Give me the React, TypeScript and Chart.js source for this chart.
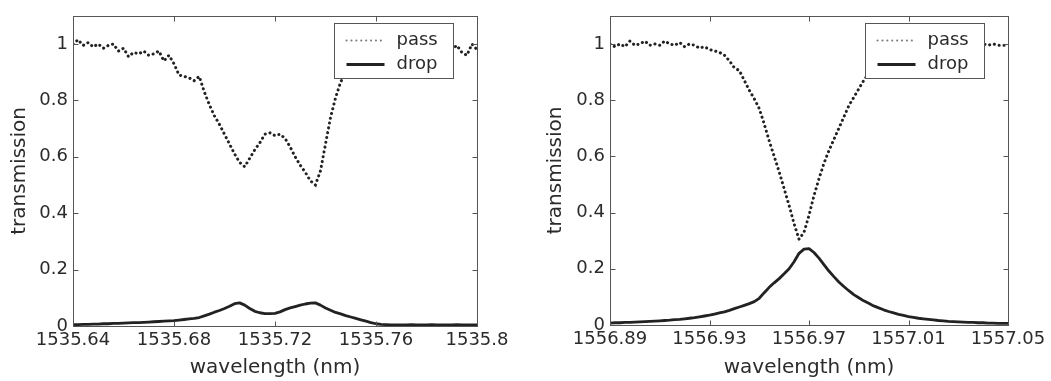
import React, { useEffect, useRef } from 'react';
import { Chart, registerables } from 'chart.js';

Chart.register(...registerables);

// ---------- data ----------
const SERIES_LABELS = ['pass', 'drop'];
const Y_TICKS = [0, 0.2, 0.4, 0.6, 0.8, 1];
const Y_TICK_LABELS = ['0', '0.2', '0.4', '0.6', '0.8', '1'];
const X_TITLE = 'wavelength (nm)';
const Y_TITLE = 'transmission';

const LEFT_X_TICKS = [1535.64, 1535.68, 1535.72, 1535.76, 1535.8];
const LEFT_X_TICK_LABELS = ['1535.64', '1535.68', '1535.72', '1535.76', '1535.8'];
const LEFT_WAVELENGTH = [
  1535.640, 1535.642, 1535.644, 1535.646, 1535.648, 1535.650, 1535.652, 1535.654, 1535.656, 1535.658,
  1535.660, 1535.662, 1535.664, 1535.666, 1535.668, 1535.670, 1535.672, 1535.674, 1535.676, 1535.678,
  1535.680, 1535.682, 1535.684, 1535.686, 1535.688, 1535.690, 1535.692, 1535.694, 1535.696, 1535.698,
  1535.700, 1535.702, 1535.704, 1535.706, 1535.708, 1535.710, 1535.712, 1535.714, 1535.716, 1535.718,
  1535.720, 1535.722, 1535.724, 1535.726, 1535.728, 1535.730, 1535.732, 1535.734, 1535.736, 1535.738,
  1535.740, 1535.742, 1535.744, 1535.746, 1535.748, 1535.750, 1535.752, 1535.754, 1535.756, 1535.758,
  1535.760, 1535.762, 1535.764, 1535.766, 1535.768, 1535.770, 1535.772, 1535.774, 1535.776, 1535.778,
  1535.780, 1535.782, 1535.784, 1535.786, 1535.788, 1535.790, 1535.792, 1535.794, 1535.796, 1535.798,
  1535.800,
];
const LEFT_PASS = [
  1.00, 1.015, 0.995, 1.005, 0.99, 1.00, 0.985, 0.995, 1.00, 0.975,
  0.985, 0.955, 0.97, 0.965, 0.975, 0.96, 0.965, 0.975, 0.94, 0.96,
  0.93, 0.89, 0.885, 0.88, 0.87, 0.885, 0.83, 0.785, 0.745, 0.715,
  0.68, 0.645, 0.61, 0.58, 0.565, 0.595, 0.625, 0.65, 0.68, 0.685,
  0.675, 0.68, 0.665, 0.635, 0.60, 0.57, 0.545, 0.515, 0.50, 0.55,
  0.645, 0.74, 0.81, 0.865, 0.90, 0.93, 0.95, 0.96, 0.97, 0.975,
  0.98, 0.985, 0.975, 0.99, 0.98, 0.985, 0.975, 0.99, 0.98, 0.985,
  0.975, 0.99, 0.98, 0.995, 0.965, 0.98, 0.995, 0.97, 0.96, 1.00,
  0.98,
];
const LEFT_DROP = [
  0.005, 0.005, 0.006, 0.006, 0.007, 0.007, 0.008, 0.008, 0.009, 0.009,
  0.010, 0.011, 0.012, 0.012, 0.013, 0.014, 0.015, 0.016, 0.017, 0.018,
  0.019, 0.021, 0.023, 0.025, 0.027, 0.030, 0.036, 0.042, 0.049, 0.055,
  0.062, 0.070, 0.079, 0.082, 0.074, 0.062, 0.052, 0.047, 0.044, 0.044,
  0.045, 0.050, 0.058, 0.064, 0.069, 0.074, 0.078, 0.081, 0.082, 0.074,
  0.064, 0.056, 0.048, 0.043, 0.037, 0.032, 0.027, 0.022, 0.017, 0.012,
  0.008, 0.006, 0.005, 0.004, 0.004, 0.004, 0.004, 0.005, 0.004, 0.004,
  0.004, 0.005, 0.004, 0.004, 0.004, 0.004, 0.005, 0.004, 0.004, 0.004,
  0.004,
];

const RIGHT_X_TICKS = [1556.89, 1556.93, 1556.97, 1557.01, 1557.05];
const RIGHT_X_TICK_LABELS = ['1556.89', '1556.93', '1556.97', '1557.01', '1557.05'];
const RIGHT_WAVELENGTH = [
  1556.890, 1556.892, 1556.894, 1556.896, 1556.898, 1556.900, 1556.902, 1556.904, 1556.906, 1556.908,
  1556.910, 1556.912, 1556.914, 1556.916, 1556.918, 1556.920, 1556.922, 1556.924, 1556.926, 1556.928,
  1556.930, 1556.932, 1556.934, 1556.936, 1556.938, 1556.940, 1556.942, 1556.944, 1556.946, 1556.948,
  1556.950, 1556.952, 1556.954, 1556.956, 1556.958, 1556.960, 1556.962, 1556.964, 1556.966, 1556.968,
  1556.970, 1556.972, 1556.974, 1556.976, 1556.978, 1556.980, 1556.982, 1556.984, 1556.986, 1556.988,
  1556.990, 1556.992, 1556.994, 1556.996, 1556.998, 1557.000, 1557.002, 1557.004, 1557.006, 1557.008,
  1557.010, 1557.012, 1557.014, 1557.016, 1557.018, 1557.020, 1557.022, 1557.024, 1557.026, 1557.028,
  1557.030, 1557.032, 1557.034, 1557.036, 1557.038, 1557.040, 1557.042, 1557.044, 1557.046, 1557.048,
  1557.050,
];
const RIGHT_PASS = [
  1.00, 0.99, 1.00, 0.99, 1.01, 0.995, 1.00, 1.01, 0.995, 1.00,
  0.995, 1.01, 1.00, 0.995, 1.005, 0.99, 1.00, 0.995, 0.985, 0.99,
  0.98, 0.975, 0.97, 0.96, 0.94, 0.915, 0.905, 0.87, 0.835, 0.805,
  0.77, 0.715, 0.655, 0.60, 0.545, 0.485, 0.425, 0.36, 0.305, 0.33,
  0.39, 0.46, 0.52, 0.575, 0.62, 0.66, 0.70, 0.74, 0.78, 0.81,
  0.84, 0.87, 0.895, 0.92, 0.94, 0.955, 0.965, 0.975, 0.98, 0.985,
  0.99, 0.99, 0.995, 1.00, 0.995, 1.00, 0.99, 1.00, 1.005, 0.995,
  1.00, 0.995, 1.00, 1.01, 0.995, 1.00, 0.995, 1.00, 0.995, 0.995,
  0.995,
];
const RIGHT_DROP = [
  0.007, 0.008, 0.008, 0.009, 0.009, 0.010, 0.011, 0.012, 0.013, 0.014,
  0.015, 0.016, 0.017, 0.019, 0.020, 0.022, 0.024, 0.026, 0.029, 0.032,
  0.035, 0.039, 0.043, 0.047, 0.052, 0.058, 0.064, 0.070, 0.076, 0.083,
  0.095, 0.115, 0.134, 0.150, 0.165, 0.182, 0.200, 0.225, 0.255, 0.270,
  0.272, 0.258, 0.238, 0.215, 0.192, 0.172, 0.153, 0.137, 0.122, 0.108,
  0.097, 0.086, 0.077, 0.068, 0.061, 0.054, 0.048, 0.043, 0.038, 0.034,
  0.030, 0.027, 0.024, 0.022, 0.020, 0.018, 0.016, 0.015, 0.013, 0.012,
  0.011, 0.010, 0.009, 0.009, 0.008, 0.008, 0.007, 0.007, 0.006, 0.006,
  0.006,
];

// ---------- styling ----------
const FONT = "'DejaVu Sans', sans-serif";
const TEXT_COLOR = '#2b2b2b';
const FRAME_COLOR = '#555555';
const LINE_COLOR = '#222222';

const framePlugin = {
  id: 'matlabFrame',
  afterDraw(chart: any) {
    const { ctx, chartArea: a, scales } = chart;
    const l = Math.round(a.left) + 0.5;
    const t = Math.round(a.top) + 0.5;
    const r = Math.round(a.right) + 0.5;
    const b = Math.round(a.bottom) + 0.5;
    ctx.save();
    ctx.strokeStyle = FRAME_COLOR;
    ctx.lineWidth = 1;
    ctx.strokeRect(l, t, r - l, b - t);
    const tl = 5;
    ctx.beginPath();
    scales.x.ticks.forEach((tk: any) => {
      const x = Math.round(scales.x.getPixelForValue(tk.value)) + 0.5;
      ctx.moveTo(x, b); ctx.lineTo(x, b - tl);
      ctx.moveTo(x, t); ctx.lineTo(x, t + tl);
    });
    scales.y.ticks.forEach((tk: any) => {
      const y = Math.round(scales.y.getPixelForValue(tk.value)) + 0.5;
      ctx.moveTo(l, y); ctx.lineTo(l + tl, y);
      ctx.moveTo(r, y); ctx.lineTo(r - tl, y);
    });
    ctx.stroke();
    ctx.restore();
  },
};

const legendPlugin = {
  id: 'boxLegend',
  afterDatasetsDraw(chart: any) {
    const { ctx, chartArea: a } = chart;
    const w = 119;
    const h = 55;
    const x = Math.round(a.right - 24 - w) + 0.5;
    const y = Math.round(a.top + 7) + 0.5;
    ctx.save();
    ctx.fillStyle = '#ffffff';
    ctx.fillRect(x, y, w, h);
    ctx.strokeStyle = FRAME_COLOR;
    ctx.lineWidth = 1;
    ctx.strokeRect(x, y, w, h);
    const rows = [y + 17, y + 41];
    chart.data.datasets.forEach((ds: any, i: number) => {
      const ry = rows[i];
      ctx.save();
      ctx.strokeStyle = ds.borderColor;
      ctx.lineWidth = i === 0 ? 2 : ds.borderWidth;
      ctx.lineCap = ds.borderCapStyle || 'butt';
      ctx.setLineDash(ds.borderDash || []);
      ctx.globalAlpha = i === 0 ? 0.6 : 1;
      ctx.beginPath();
      ctx.moveTo(x + 12, ry);
      ctx.lineTo(x + 50, ry);
      ctx.stroke();
      ctx.restore();
      ctx.fillStyle = TEXT_COLOR;
      ctx.font = `18px ${FONT}`;
      ctx.textBaseline = 'middle';
      ctx.textAlign = 'left';
      ctx.fillText(ds.label, x + 62, ry);
    });
    ctx.restore();
  },
};

type PanelProps = {
  wavelength: number[];
  pass: number[];
  drop: number[];
  xTicks: number[];
  xTickLabels: string[];
  left: number;
  width: number;
  yAxisWidth: number;
  yTitlePad: number;
  padTop: number;
  padRight: number;
  xAxisHeight: number;
};

function Panel(p: PanelProps) {
  const ref = useRef<HTMLCanvasElement | null>(null);
  useEffect(() => {
    if (!ref.current) return;
    const xMin = p.xTicks[0];
    const xMax = p.xTicks[p.xTicks.length - 1];
    const chart = new Chart(ref.current, {
      type: 'line',
      data: {
        datasets: [
          {
            label: SERIES_LABELS[0],
            data: p.wavelength.map((x, i) => ({ x, y: p.pass[i] })),
            borderColor: LINE_COLOR,
            borderWidth: 3,
            borderDash: [0.1, 4.8],
            borderCapStyle: 'round',
            pointRadius: 0,
            tension: 0,
            fill: false,
          },
          {
            label: SERIES_LABELS[1],
            data: p.wavelength.map((x, i) => ({ x, y: p.drop[i] })),
            borderColor: LINE_COLOR,
            borderWidth: 2.8,
            borderJoinStyle: 'round',
            pointRadius: 0,
            tension: 0,
            fill: false,
          },
        ],
      } as any,
      options: {
        responsive: false,
        animation: false,
        devicePixelRatio: 1,
        layout: { padding: { top: p.padTop, right: p.padRight, left: 0, bottom: 0 } },
        plugins: { legend: { display: false }, tooltip: { enabled: false } },
        scales: {
          x: {
            type: 'linear',
            min: xMin,
            max: xMax,
            afterBuildTicks: (s: any) => { s.ticks = p.xTicks.map((v) => ({ value: v })); },
            afterFit: (s: any) => { s.height = p.xAxisHeight; },
            grid: { display: false, drawTicks: false },
            border: { display: false },
            ticks: {
              autoSkip: false,
              maxRotation: 0,
              padding: 4,
              color: TEXT_COLOR,
              font: { family: FONT, size: 18 },
              callback: (v: any) => {
                const i = p.xTicks.findIndex((t) => Math.abs(t - Number(v)) < 1e-6);
                return i >= 0 ? p.xTickLabels[i] : '';
              },
            },
            title: {
              display: true,
              text: X_TITLE,
              color: TEXT_COLOR,
              font: { family: FONT, size: 20 },
              padding: { top: 0, bottom: 1 },
            },
          },
          y: {
            type: 'linear',
            min: 0,
            max: 1.1,
            afterBuildTicks: (s: any) => { s.ticks = Y_TICKS.map((v) => ({ value: v })); },
            afterFit: (s: any) => { s.width = p.yAxisWidth; },
            grid: { display: false, drawTicks: false },
            border: { display: false },
            ticks: {
              padding: 5,
              color: TEXT_COLOR,
              font: { family: FONT, size: 18 },
              callback: (v: any) => {
                const i = Y_TICKS.findIndex((t) => Math.abs(t - Number(v)) < 1e-6);
                return i >= 0 ? Y_TICK_LABELS[i] : '';
              },
            },
            title: {
              display: true,
              text: Y_TITLE,
              color: TEXT_COLOR,
              font: { family: FONT, size: 20 },
              padding: { top: p.yTitlePad, bottom: 0 },
            },
          },
        },
      } as any,
      plugins: [legendPlugin, framePlugin],
    });
    return () => chart.destroy();
  }, []);
  return (
    <canvas
      ref={ref}
      width={p.width}
      height={381}
      style={{ position: 'absolute', left: p.left, top: 0, width: p.width, height: 381 }}
    />
  );
}

export default function App() {
  return (
    <div style={{ position: 'fixed', left: 0, top: 0, width: 1051, height: 381, background: '#ffffff' }}>
      <Panel
        wavelength={LEFT_WAVELENGTH}
        pass={LEFT_PASS}
        drop={LEFT_DROP}
        xTicks={LEFT_X_TICKS}
        xTickLabels={LEFT_X_TICK_LABELS}
        left={0}
        width={520}
        yAxisWidth={73}
        yTitlePad={8}
        padTop={8}
        padRight={43}
        xAxisHeight={55}
      />
      <Panel
        wavelength={RIGHT_WAVELENGTH}
        pass={RIGHT_PASS}
        drop={RIGHT_DROP}
        xTicks={RIGHT_X_TICKS}
        xTickLabels={RIGHT_X_TICK_LABELS}
        left={530}
        width={521}
        yAxisWidth={80}
        yTitlePad={14}
        padTop={7}
        padRight={43}
        xAxisHeight={56}
      />
    </div>
  );
}
